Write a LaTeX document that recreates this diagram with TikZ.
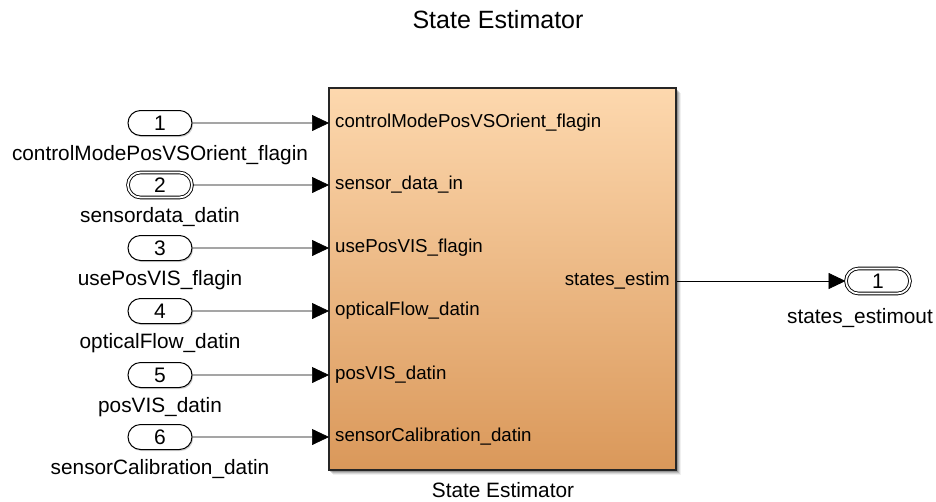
\documentclass[tikz,border=0pt]{standalone}
\usepackage{fontspec}
\setmainfont{Liberation Sans}
\usetikzlibrary{arrows.meta,shapes.misc,shadows,fadings}
\definecolor{blktop}{HTML}{FDD8AE}
\definecolor{blkbot}{HTML}{DA985A}
\tikzset{
  port/.style={draw, line width=1pt, rounded rectangle, minimum width=64pt, minimum height=25pt, inner sep=0pt, font=\fontsize{21}{21}\selectfont, fill=white,
    drop shadow={shadow xshift=1.2pt, shadow yshift=-1.5pt, opacity=0.35}},
  busport/.style={port, double, double distance=1.8pt, line width=0.9pt},
  outlbl/.style={font=\fontsize{20.8}{21}\selectfont, inner sep=0pt},
  inlbl/.style={font=\fontsize{18.7}{19}\selectfont, inner sep=0pt},
  sig/.style={draw, line width=0.7pt, -{Triangle[length=17pt,width=16pt]}},
}
\begin{document}
\begin{tikzpicture}[x=1pt,y=-1pt]
\useasboundingbox (0,0) rectangle (936,501);
% title
\node[font=\fontsize{25}{25}\selectfont] (title) at (498,20) {State Estimator};
% subsystem block with soft shadow
\foreach \d/\o in {5/0.06,4/0.1,3/0.14,2/0.2}{
  \fill[black, opacity=\o] (329+\d-1,88+\d) rectangle (676+\d,470+\d);
}
\shade[top color=blktop, bottom color=blkbot, draw=black!85, line width=1.2pt] (329,88) rectangle (676,470);
\node[outlbl] (blkname) at (503,490) {State Estimator};
% input ports
\foreach \n/\y/\name/\txt [count=\i] in {
  1/123/in1/controlModePosVSOrient\_flagin,
  2/185/in2/sensordata\_datin,
  3/248/in3/usePosVIS\_flagin,
  4/311/in4/opticalFlow\_datin,
  5/375/in5/posVIS\_datin,
  6/437/in6/sensorCalibration\_datin}{
  \ifnum\i=2
    \node[busport] (\name) at (160,\y) {\n};
  \else
    \node[port] (\name) at (160,\y) {\n};
  \fi
  \node[outlbl] (\name lab) at (160,\y+32) {\txt};
  \coordinate (\name dst) at (329,\y);
  \draw[sig] (\name) -- (\name dst);
}
% port labels inside the block
\node[inlbl, anchor=west] (p1) at (335,123) {controlModePosVSOrient\_flagin};
\node[inlbl, anchor=west] (p2) at (335,185) {sensor\_data\_in};
\node[inlbl, anchor=west] (p3) at (335,248) {usePosVIS\_flagin};
\node[inlbl, anchor=west] (p4) at (335,311) {opticalFlow\_datin};
\node[inlbl, anchor=west] (p5) at (335,375) {posVIS\_datin};
\node[inlbl, anchor=west] (p6) at (335,437) {sensorCalibration\_datin};
\node[inlbl, anchor=east] (q1) at (670,281) {states\_estim};
% output port
\node[busport] (out1) at (878,281) {1};
\node[outlbl] (out1lab) at (860,318) {states\_estimout};
\coordinate (outsrc) at (677,281);
\draw[sig] (outsrc) -- (out1);
\end{tikzpicture}
\end{document}
